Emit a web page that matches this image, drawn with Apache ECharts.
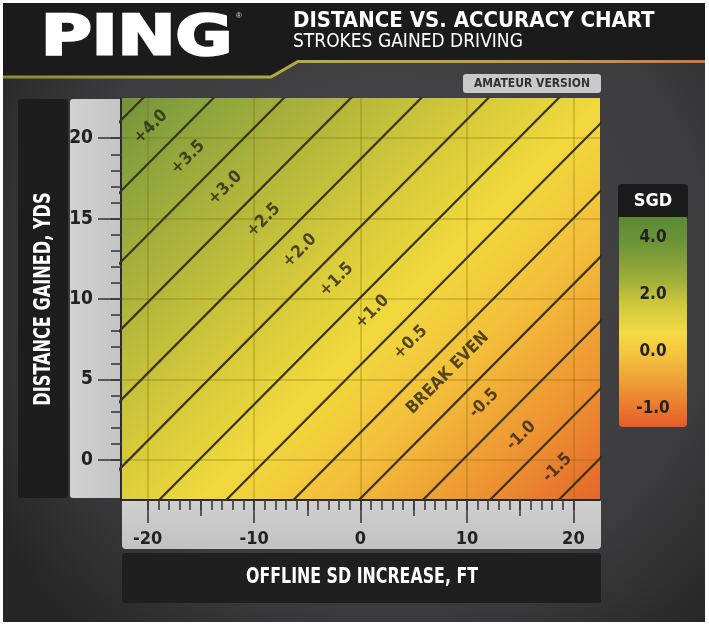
<!DOCTYPE html>
<html>
<head>
<meta charset="utf-8">
<script src="https://cdn.jsdelivr.net/npm/echarts@6/dist/echarts.min.js"></script>
<style>
html, body { margin: 0; padding: 0; background: #fff; }
#chart { width: 709px; height: 626px; }
</style>
</head>
<body>
<div id="chart"></div>
<script>
// 坐标范围 / 刻度
var xMin = -22.5, xMax = 22.5;
var yMin = -2.5, yMax = 22.5;
var xLabelValues = [-20, -10, 0, 10, 20];
var xMidTicks = [-15, -5, 5, 15];
var xMinorTicks = [-20, -19, -18, -17, -16, -15, -14, -13, -12, -11, -10, -9, -8, -7, -6, -5, -4, -3, -2, -1, 0,
    1, 2, 3, 4, 5, 6, 7, 8, 9, 10, 11, 12, 13, 14, 15, 16, 17, 18, 19, 20];
var yLabelValues = [0, 5, 10, 15, 20];
var yMinorTicks = [0, 1, 2, 3, 4, 5, 6, 7, 8, 9, 10, 11, 12, 13, 14, 15, 16, 17, 18, 19, 20];

// 等值线：每条线在 x=0 处的 y 值（码），斜率 码/英尺
var lineSlope = 0.666;
var lineIntercepts = [36.1, 31.7, 27.3, 23.1, 18.7, 14.5, 10.1, 5.9, 1.7, -2.4, -6.4, -10.6, -14.9];

// 带状区域的标签
var bandLabels = ['+4.0', '+3.5', '+3.0', '+2.5', '+2.0', '+1.5', '+1.0', '+0.5', 'BREAK EVEN', '-0.5', '-1.0', '-1.5'];
var bandLabelX = [-19.7, -16.2, -12.7, -9.1, -5.7, -2.25, 1.1, 4.7, 8.2, 11.6, 15.1, 18.5];
var bandLabelY = [20.7, 18.8, 16.9, 14.9, 13.0, 11.2, 9.2, 7.3, 5.4, 3.5, 1.5, -0.5];

// 标题文字
var xAxisTitle = 'OFFLINE SD INCREASE, FT';
var yAxisTitle = 'DISTANCE GAINED, YDS';

// 图例
var legendTitle = 'SGD';
var legendLabels = ['4.0', '2.0', '0.0', '-1.0'];

var FF = "'DejaVu Sans Condensed', 'Liberation Sans Narrow', 'DejaVu Sans', sans-serif";
var chart = echarts.init(document.getElementById('chart'));

// 等值线 series
var lineSeries = lineIntercepts.map(function (b) {
    return {
        type: 'line',
        data: [[-26, b - 26 * lineSlope], [26, b + 26 * lineSlope]],
        symbol: 'none',
        clip: true,
        silent: true,
        z: 3,
        lineStyle: { color: '#3a3212', width: 2.2 }
    };
});

var labelData = bandLabels.map(function (t, i) {
    return { name: t, value: [bandLabelX[i], bandLabelY[i]] };
});

var tickStyle = { color: '#3a3a3a', width: 1.6 };
var hiddenLine = { show: false, onZero: false };

chart.setOption({
    animation: false,
    backgroundColor: '#fff',
    grid: {
        left: 121, top: 98, width: 479, height: 402,
        show: true, borderWidth: 0,
        backgroundColor: {
            type: 'linear', x: 122, y: 98, x2: 562, y2: 538, global: true,
            colorStops: [
                { offset: 0, color: '#74913a' },
                { offset: 0.07, color: '#84a03d' },
                { offset: 0.26, color: '#b4b73c' },
                { offset: 0.42, color: '#d8cb3a' },
                { offset: 0.55, color: '#f1d93d' },
                { offset: 0.69, color: '#f3bf3b' },
                { offset: 0.84, color: '#ee9733' },
                { offset: 1, color: '#e4662a' }
            ]
        }
    },
    xAxis: [{
        type: 'value', min: xMin, max: xMax,
        axisLine: { show: true, onZero: false, lineStyle: { color: '#2b2b2b', width: 2 } },
        axisTick: { show: true, customValues: xMinorTicks, length: 10, lineStyle: tickStyle },
        axisLabel: { customValues: xLabelValues, margin: 30, color: '#222', fontSize: 18, fontWeight: 'bold', fontFamily: FF },
        splitLine: { show: false }
    }, {
        type: 'value', min: xMin, max: xMax, position: 'bottom',
        axisLine: hiddenLine,
        axisTick: { show: true, customValues: xMidTicks, length: 16, lineStyle: tickStyle },
        axisLabel: { show: false },
        splitLine: { show: false }
    }, {
        type: 'value', min: xMin, max: xMax, position: 'bottom',
        axisLine: hiddenLine,
        axisTick: { show: true, customValues: xLabelValues, length: 23, lineStyle: tickStyle },
        axisLabel: { show: false },
        splitLine: { show: true, lineStyle: { color: 'rgba(120,100,10,0.35)', width: 1.5 } }
    }],
    yAxis: [{
        type: 'value', min: yMin, max: yMax,
        axisLine: { show: true, onZero: false, lineStyle: { color: '#2b2b2b', width: 2 } },
        axisTick: { show: true, customValues: yMinorTicks, length: 10, lineStyle: tickStyle },
        axisLabel: { customValues: yLabelValues, margin: 28, color: '#222', fontSize: 19, fontWeight: 'bold', fontFamily: FF },
        splitLine: { show: false }
    }, {
        type: 'value', min: yMin, max: yMax, position: 'left',
        axisLine: hiddenLine,
        axisTick: { show: true, customValues: yLabelValues, length: 23, lineStyle: tickStyle },
        axisLabel: { show: false },
        splitLine: { show: true, lineStyle: { color: 'rgba(120,100,10,0.35)', width: 1.5 } }
    }],
    series: lineSeries.concat([{
        type: 'scatter',
        data: labelData,
        symbolSize: 1,
        itemStyle: { color: 'rgba(0,0,0,0)' },
        silent: true,
        z: 4,
        label: {
            show: true, position: 'inside', rotate: 45,
            formatter: function (p) { return p.name; },
            color: '#2a2610', fontSize: 17, fontWeight: 'bold', fontFamily: FF
        }
    }]),
    graphic: [
        // 整体深色底
        { type: 'rect', z: -20, shape: { x: 3, y: 3, width: 702, height: 619 },
          style: { fill: { type: 'radial', x: 0.55, y: 0.45, r: 0.75,
              colorStops: [{ offset: 0, color: '#4b4b4d' }, { offset: 0.7, color: '#3c3c3e' }, { offset: 1, color: '#262626' }] } } },
        // 顶部黑色标题栏
        { type: 'polygon', z: -19, shape: { points: [[3, 3], [705, 3], [705, 60], [298, 60], [272, 76], [3, 76]] },
          style: { fill: '#1b1b1b' } },
        { type: 'polyline', z: -18, shape: { points: [[3, 77], [271, 77], [298, 61.5], [705, 61.5]] },
          style: { fill: null, lineWidth: 3,
              stroke: { type: 'linear', x: 0, y: 0, x2: 1, y2: 0,
                  colorStops: [{ offset: 0, color: '#8c8a3a' }, { offset: 0.45, color: '#b8ad40' }, { offset: 0.8, color: '#c79a45' }, { offset: 1, color: '#d2743a' }] } } },
        // PING
        { type: 'text', z: 5, x: 41, y: 12, scaleX: 1.26,
          style: { text: 'PING', x: 0, y: 0, fill: '#fff', stroke: '#fff', lineWidth: 2.5, lineJoin: 'round',
              font: "bold 55px 'DejaVu Sans', sans-serif", verticalAlign: 'top' } },
        { type: 'text', z: 5, style: { text: '®', x: 236, y: 12, fill: '#ddd', font: '8px sans-serif' } },
        // 标题
        { type: 'text', z: 5, style: { text: 'DISTANCE VS. ACCURACY CHART', x: 293, y: 21, fill: '#fff',
              font: 'bold 22px ' + FF, verticalAlign: 'middle' } },
        { type: 'text', z: 5, style: { text: 'STROKES GAINED DRIVING', x: 293, y: 42, fill: '#fff',
              font: '19px ' + FF, verticalAlign: 'middle' } },
        // AMATEUR VERSION
        { type: 'rect', z: -5, shape: { x: 463, y: 74, width: 138, height: 19, r: 3 }, style: { fill: '#c9c9c9' } },
        { type: 'text', z: 5, style: { text: 'AMATEUR VERSION', x: 532, y: 84, fill: '#333',
              font: 'bold 12px ' + FF, align: 'center', verticalAlign: 'middle' } },
        // Y 轴标题黑条 + 灰色刻度条
        { type: 'rect', z: -5, shape: { x: 18, y: 99, width: 50, height: 399, r: 3 }, style: { fill: '#1d1d1d' } },
        { type: 'text', z: 5, x: 44, y: 299, rotation: Math.PI / 2, scaleX: 0.78,
          style: { text: yAxisTitle, x: 0, y: 0, fill: '#fff', font: 'bold 23px ' + FF, align: 'center', verticalAlign: 'middle' } },
        { type: 'rect', z: -5, shape: { x: 70, y: 99, width: 52, height: 399, r: [3, 0, 0, 3] },
          style: { fill: { type: 'linear', x: 0, y: 0, x2: 1, y2: 0,
              colorStops: [{ offset: 0, color: '#d2d2d2' }, { offset: 1, color: '#c4c4c4' }] } } },
        // X 轴灰色刻度条 + 标题黑条
        { type: 'rect', z: -5, shape: { x: 122, y: 500, width: 479, height: 49, r: [0, 0, 4, 4] },
          style: { fill: { type: 'linear', x: 0, y: 0, x2: 0, y2: 1,
              colorStops: [{ offset: 0, color: '#d0d0d0' }, { offset: 1, color: '#c2c2c2' }] } } },
        { type: 'rect', z: -5, shape: { x: 122, y: 553, width: 479, height: 50, r: 3 }, style: { fill: '#1f1f1f' } },
        { type: 'text', z: 5, x: 362, y: 577, scaleX: 0.8,
          style: { text: xAxisTitle, x: 0, y: 0, fill: '#fff', font: 'bold 22px ' + FF, align: 'center', verticalAlign: 'middle' } },
        // 图例
        { type: 'rect', z: -5, shape: { x: 618, y: 184, width: 70, height: 34, r: [4, 4, 0, 0] }, style: { fill: '#1b1b1b' } },
        { type: 'text', z: 5, style: { text: legendTitle, x: 653, y: 201, fill: '#fff',
              font: 'bold 18px ' + FF, align: 'center', verticalAlign: 'middle' } },
        { type: 'rect', z: -5, shape: { x: 619, y: 217, width: 68, height: 210, r: [0, 0, 4, 4] },
          style: { fill: { type: 'linear', x: 0, y: 0, x2: 0, y2: 1,
              colorStops: [
                  { offset: 0, color: '#5a8a34' },
                  { offset: 0.12, color: '#6c9438' },
                  { offset: 0.3, color: '#a0ae3a' },
                  { offset: 0.4, color: '#c9c53c' },
                  { offset: 0.55, color: '#f5da44' },
                  { offset: 0.66, color: '#f4c23e' },
                  { offset: 0.8, color: '#ee9a36' },
                  { offset: 1, color: '#e65c28' }
              ] } } }
    ].concat(legendLabels.map(function (t, i) {
        return { type: 'text', z: 5, style: { text: t, x: 653, y: 238 + i * 56.7, fill: '#222',
            font: 'bold 17px ' + FF, align: 'center', verticalAlign: 'middle' } };
    }))
});
</script>
</body>
</html>
